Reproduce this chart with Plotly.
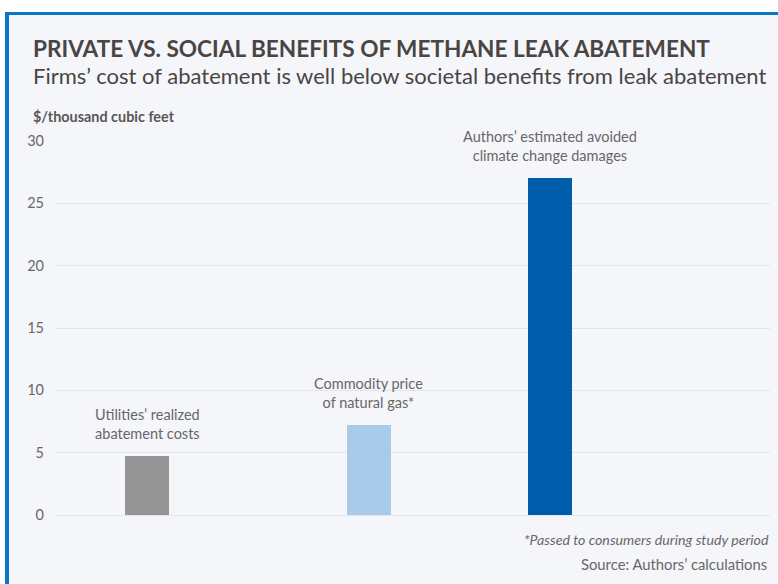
import plotly.graph_objects as go

categories = ["Utilities’ realized<br>abatement costs",
              "Commodity price<br>of natural gas*",
              "Authors’ estimated avoided<br>climate change damages"]
values = [4.7, 7.2, 27.0]
x_positions = [1.29, 4.39, 6.92]
colors = ["#959595", "#a9cbea", "#005dab"]
y_ticks = [0, 5, 10, 15, 20, 25, 30]

W, H = 778, 584
FONT = "Lato"
TXT = "#6a6666"

def px(x):
    return x / W

def py(y):
    return 1 - y / H

fig = go.Figure()
fig.add_trace(go.Bar(
    x=x_positions, y=values, width=0.62,
    marker=dict(color=colors, line=dict(width=0)),
    hoverinfo="skip",
))

for xv, yv, lab in zip(x_positions, values, categories):
    fig.add_annotation(x=xv, y=yv, xref="x", yref="y", text=lab,
                       showarrow=False, yanchor="bottom", yshift=12,
                       font=dict(family=FONT, size=14.5, color=TXT),
                       align="center")

shapes = [
    dict(type="rect", xref="paper", yref="paper", x0=px(5), x1=1.01, y0=-0.01, y1=py(12),
         fillcolor="#f4f6fa", line=dict(width=0), layer="below"),
    dict(type="rect", xref="paper", yref="paper", x0=px(5), x1=1.01, y0=py(15), y1=py(12),
         fillcolor="#0a77c6", line=dict(width=0), layer="below"),
    dict(type="rect", xref="paper", yref="paper", x0=px(5), x1=px(9), y0=-0.01, y1=py(12),
         fillcolor="#0a77c6", line=dict(width=0), layer="below"),
]

texts = [
    dict(x=px(31), y=py(48), text="<b>PRIVATE VS. SOCIAL BENEFITS OF METHANE LEAK ABATEMENT</b>",
         font=dict(family=FONT, size=22.6, color="#4a4543"), xanchor="left", yanchor="middle"),
    dict(x=px(31), y=py(75), text="Firms’ cost of abatement is well below societal benefits from leak abatement",
         font=dict(family=FONT, size=22, color="#4a4543"), xanchor="left", yanchor="middle"),
    dict(x=px(31), y=py(116), text="<b>$/thousand cubic feet</b>",
         font=dict(family=FONT, size=14.4, color="#5a5656"), xanchor="left", yanchor="middle"),
    dict(x=px(771), y=py(539), text="<i>*Passed to consumers during study period</i>",
         font=dict(family=FONT, size=14.2, color=TXT), xanchor="right", yanchor="middle"),
    dict(x=px(769), y=py(564), text="Source: Authors’ calculations",
         font=dict(family=FONT, size=14.8, color=TXT), xanchor="right", yanchor="middle"),
]
for t in texts:
    fig.add_annotation(xref="paper", yref="paper", showarrow=False, **t)

fig.update_layout(
    width=W, height=H,
    margin=dict(l=0, r=0, t=0, b=0),
    paper_bgcolor="white",
    plot_bgcolor="rgba(0,0,0,0)",
    showlegend=False,
    shapes=shapes,
    bargap=0,
    xaxis=dict(domain=[px(55), px(770)], range=[0, 10], showticklabels=False,
               showgrid=False, zeroline=False, showline=False, ticks="",
               automargin=False, fixedrange=True),
    yaxis=dict(domain=[py(515), py(141)], range=[0, 30], tickvals=y_ticks,
               showgrid=True, gridcolor="#e2e6eb", gridwidth=1,
               zeroline=True, zerolinecolor="#e2e6eb", zerolinewidth=1,
               showline=False, ticks="", ticklabelstandoff=10,
               tickfont=dict(family=FONT, size=14.5, color=TXT),
               automargin=False, fixedrange=True),
)

fig.write_html("out.html")
